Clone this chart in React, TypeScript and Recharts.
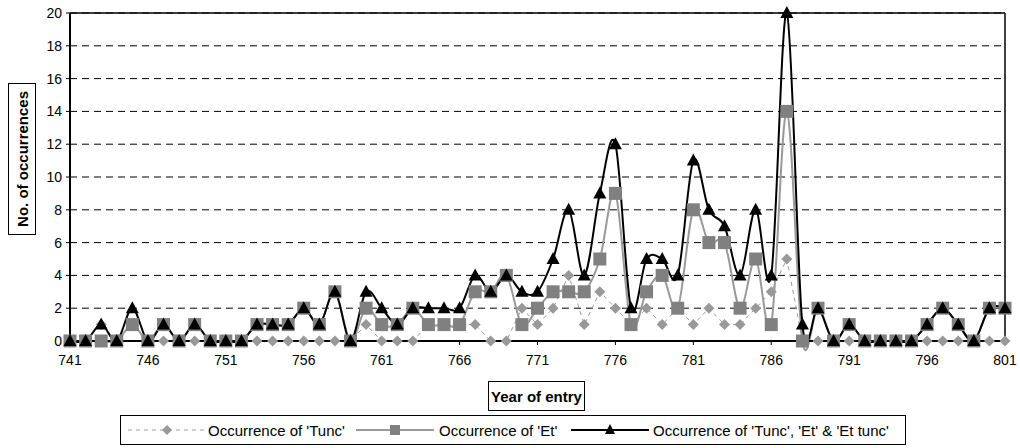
import React from 'react'
import { LineChart, Line, XAxis, YAxis, CartesianGrid, ReferenceLine } from 'recharts'

const years = [
    741, 742, 743, 744, 745, 746, 747, 748, 749, 750,
    751, 752, 753, 754, 755, 756, 757, 758, 759, 760,
    761, 762, 763, 764, 765, 766, 767, 768, 769, 770,
    771, 772, 773, 774, 775, 776, 777, 778, 779, 780,
    781, 782, 783, 784, 785, 786, 787, 788, 789, 790,
    791, 792, 793, 794, 795, 796, 797, 798, 799, 800,
    801,
]

const tuncCounts = [
    0, 0, 1, 0, 1, 0, 0, 0, 0, 0,
    0, 0, 0, 0, 0, 0, 0, 0, 0, 1,
    0, 0, 0, 1, 1, 1, 1, 0, 0, 2,
    1, 2, 4, 1, 3, 2, 1, 2, 1, 2,
    1, 2, 1, 1, 2, 3, 5, 0, 0, 0,
    0, 0, 0, 0, 0, 0, 0, 0, 0, 0,
    0,
]

const etCounts = [
    0, 0, 0, 0, 1, 0, 1, 0, 1, 0,
    0, 0, 1, 1, 1, 2, 1, 3, 0, 2,
    1, 1, 2, 1, 1, 1, 3, 3, 4, 1,
    2, 3, 3, 3, 5, 9, 1, 3, 4, 2,
    8, 6, 6, 2, 5, 1, 14, 0, 2, 0,
    1, 0, 0, 0, 0, 1, 2, 1, 0, 2,
    2,
]

const totalCounts = [
    0, 0, 1, 0, 2, 0, 1, 0, 1, 0,
    0, 0, 1, 1, 1, 2, 1, 3, 0, 3,
    2, 1, 2, 2, 2, 2, 4, 3, 4, 3,
    3, 5, 8, 4, 9, 12, 2, 5, 5, 4,
    11, 8, 7, 4, 8, 4, 20, 1, 2, 0,
    1, 0, 0, 0, 0, 1, 2, 1, 0, 2,
    2,
]

const xTicks = [741, 746, 751, 756, 761, 766, 771, 776, 781, 786, 791, 796, 801]
const yTicks = [0, 2, 4, 6, 8, 10, 12, 14, 16, 18, 20]

const legendNames = [
    "Occurrence of 'Tunc'",
    "Occurrence of 'Et'",
    "Occurrence of 'Tunc', 'Et' & 'Et tunc'",
]

if (typeof document !== 'undefined') document.body.style.margin = '0'

const FONT = '"Liberation Sans", Arial, sans-serif'

const data = years.map((year, i) => ({
    year,
    tunc: tuncCounts[i],
    et: etCounts[i],
    total: totalCounts[i],
}))

// smoothing like excel's "smoothed line" (catmull-rom style bezier)
const excelSmooth = (context: any) => {
    let pts: number[][] = []
    return {
        areaStart() { },
        areaEnd() { },
        lineStart() { pts = [] },
        point(x: number, y: number) { pts.push([+x, +y]) },
        lineEnd() {
            if (!pts.length) return
            context.moveTo(pts[0][0], pts[0][1])
            for (let i = 0; i < pts.length - 1; i++) {
                const p0 = pts[i - 1] || pts[i]
                const p1 = pts[i]
                const p2 = pts[i + 1]
                const p3 = pts[i + 2] || p2
                context.bezierCurveTo(
                    p1[0] + (p2[0] - p0[0]) / 6, p1[1] + (p2[1] - p0[1]) / 6,
                    p2[0] - (p3[0] - p1[0]) / 6, p2[1] - (p3[1] - p1[1]) / 6,
                    p2[0], p2[1]
                )
            }
        },
    }
}

const DiamondDot = (props: any) => {
    const { cx, cy, index } = props
    if (cx == null || cy == null) return null
    const r = 5.5
    return <path key={`dia-${index}`} d={`M${cx},${cy - r}L${cx + r},${cy}L${cx},${cy + r}L${cx - r},${cy}Z`} fill="#999999" />
}

const SquareDot = (props: any) => {
    const { cx, cy, index } = props
    if (cx == null || cy == null) return null
    return <rect key={`sq-${index}`} x={cx - 6.5} y={cy - 6.5} width={13} height={13} fill="#808080" />
}

const TriangleDot = (props: any) => {
    const { cx, cy, index } = props
    if (cx == null || cy == null) return null
    return <path key={`tri-${index}`} d={`M${cx},${cy - 7}L${cx + 6.5},${cy + 5}L${cx - 6.5},${cy + 5}Z`} fill="#000" />
}

const LegendSymbol = ({ kind }: { kind: number }) => {
    if (kind === 0) {
        return (
            <svg width={78} height={14}>
                <line x1={0} y1={7} x2={78} y2={7} stroke="#999999" strokeWidth={1} strokeDasharray="4 4" />
                <path d="M39,2L44,7L39,12L34,7Z" fill="#999999" />
            </svg>
        )
    }
    if (kind === 1) {
        return (
            <svg width={78} height={14}>
                <line x1={0} y1={7} x2={78} y2={7} stroke="#999999" strokeWidth={2} />
                <rect x={34} y={2} width={10} height={10} fill="#808080" />
            </svg>
        )
    }
    return (
        <svg width={78} height={14}>
            <line x1={0} y1={7} x2={78} y2={7} stroke="#000" strokeWidth={2} />
            <path d="M39,1L44,11L34,11Z" fill="#000" />
        </svg>
    )
}

const legendPos = [
    { sym: 127, text: 207 },
    { sym: 355, text: 438 },
    { sym: 570, text: 652 },
]

export default function App() {
    return (
        <div style={{ position: 'relative', width: 1020, height: 448, background: '#fff', fontFamily: FONT }}>
            <LineChart width={1020} height={448} data={data} margin={{ top: 13, right: 15, left: 30, bottom: 77 }}>
                <CartesianGrid vertical={false} stroke="#000" strokeDasharray="7 5" />
                <XAxis
                    dataKey="year"
                    type="number"
                    domain={[741, 801]}
                    ticks={xTicks}
                    interval={0}
                    height={30}
                    tickSize={4}
                    tickMargin={10}
                    axisLine={{ stroke: '#000', strokeWidth: 2 }}
                    tickLine={{ stroke: '#000' }}
                    tick={{ fill: '#000', fontSize: 14, fontFamily: FONT }}
                />
                <YAxis
                    domain={[0, 20]}
                    ticks={yTicks}
                    interval={0}
                    width={40}
                    tickSize={4}
                    tickMargin={4}
                    axisLine={{ stroke: '#000', strokeWidth: 2 }}
                    tickLine={{ stroke: '#000' }}
                    tick={{ fill: '#000', fontSize: 14, fontFamily: FONT }}
                />
                <ReferenceLine y={20} stroke="#000" strokeWidth={1.5} />
                <ReferenceLine x={801} stroke="#000" strokeWidth={1.5} />
                <Line
                    dataKey="tunc"
                    type="linear"
                    stroke="#999999"
                    strokeWidth={1}
                    strokeDasharray="4 4"
                    dot={DiamondDot}
                    activeDot={false}
                    isAnimationActive={false}
                />
                <Line
                    dataKey="et"
                    type={excelSmooth as any}
                    stroke="#999999"
                    strokeWidth={2}
                    dot={SquareDot}
                    activeDot={false}
                    isAnimationActive={false}
                />
                <Line
                    dataKey="total"
                    type={excelSmooth as any}
                    stroke="#000"
                    strokeWidth={2}
                    dot={TriangleDot}
                    activeDot={false}
                    isAnimationActive={false}
                />
            </LineChart>

            <div style={{
                position: 'absolute', left: 8, top: 83, width: 26, height: 150,
                border: '1.5px solid #000', display: 'flex', alignItems: 'center', justifyContent: 'center',
            }}>
                <span style={{ writingMode: 'vertical-rl', transform: 'rotate(180deg)', fontWeight: 'bold', fontSize: 15, whiteSpace: 'nowrap' }}>
                    No. of occurrences
                </span>
            </div>

            <div style={{
                position: 'absolute', left: 488, top: 381, width: 97, height: 30,
                border: '1.5px solid #000', display: 'flex', alignItems: 'center', justifyContent: 'center',
                fontWeight: 'bold', fontSize: 15, whiteSpace: 'nowrap', boxSizing: 'border-box',
            }}>
                Year of entry
            </div>

            <div style={{
                position: 'absolute', left: 120, top: 415, width: 786, height: 30,
                border: '1px solid #000', boxSizing: 'border-box',
            }}>
                {legendNames.map((name, i) => (
                    <div key={name} style={{ position: 'absolute', top: 0, height: 28, left: legendPos[i].sym - 120, display: 'flex', alignItems: 'center' }}>
                        <LegendSymbol kind={i} />
                        <span style={{ position: 'absolute', left: legendPos[i].text - legendPos[i].sym, fontSize: 15, whiteSpace: 'nowrap' }}>{name}</span>
                    </div>
                ))}
            </div>
        </div>
    )
}
